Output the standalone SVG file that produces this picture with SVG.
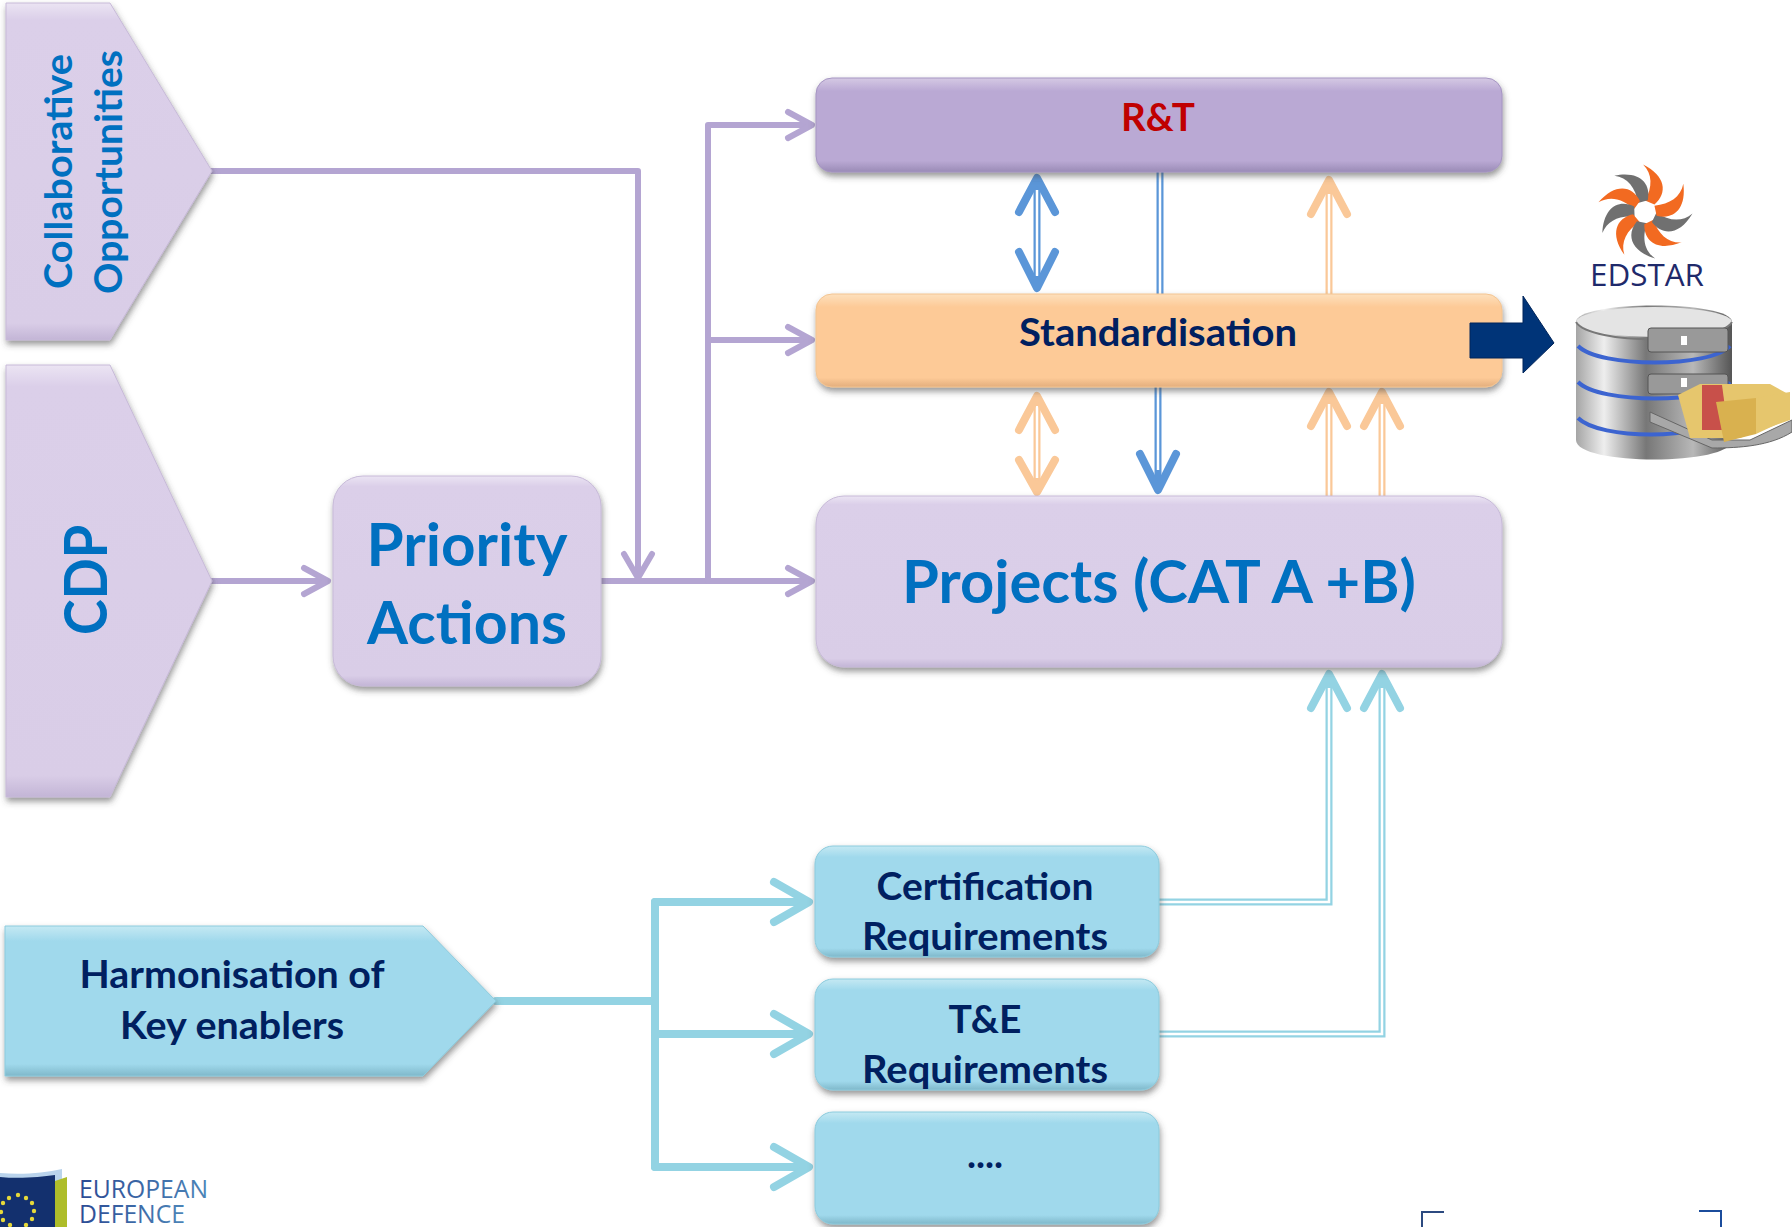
<svg xmlns="http://www.w3.org/2000/svg" width="1792" height="1227" viewBox="0 0 1792 1227">
<style>
text{font-family:Lato,"Open Sans","Liberation Sans",sans-serif;font-weight:700}
.b{fill:#0070c0}.n{fill:#002060}
.m{text-anchor:middle}
.pu{stroke:#b4a5d2}.bl{stroke:#5b96d8}.or{stroke:#fac898}.te{stroke:#93d3e3}
.c{fill:none;stroke-linecap:round;stroke-linejoin:round}
.w5{stroke-width:6}.w8{stroke-width:8}
.dbl{fill:none;stroke-width:7;stroke-linejoin:miter}
.gap{fill:none;stroke:#fff;stroke-width:2.5}
.hi{fill:#fff;opacity:.3}
.star{fill:#e6d93a}
</style>
<defs>
<filter id="sh" x="-10%" y="-10%" width="120%" height="125%"><feDropShadow dx="1" dy="4" stdDeviation="3" flood-color="#444" flood-opacity=".55"/></filter>
<linearGradient id="lav" x1="0" y1="0" x2="0" y2="1"><stop offset="0" stop-color="#ebe4f3"/><stop offset=".05" stop-color="#dbcfe9"/><stop offset=".95" stop-color="#d9cde7"/><stop offset="1" stop-color="#c3b5d6"/></linearGradient>
<linearGradient id="rt" x1="0" y1="0" x2="0" y2="1"><stop offset="0" stop-color="#d5c9e4"/><stop offset=".14" stop-color="#baa9d4"/><stop offset=".88" stop-color="#baa9d4"/><stop offset="1" stop-color="#9a8bb6"/></linearGradient>
<linearGradient id="og" x1="0" y1="0" x2="0" y2="1"><stop offset="0" stop-color="#fde0bd"/><stop offset=".14" stop-color="#fdca97"/><stop offset=".9" stop-color="#fdca97"/><stop offset="1" stop-color="#e3ae7d"/></linearGradient>
<linearGradient id="tl" x1="0" y1="0" x2="0" y2="1"><stop offset="0" stop-color="#c5e9f3"/><stop offset=".1" stop-color="#a0d9ec"/><stop offset=".92" stop-color="#a0d9ec"/><stop offset="1" stop-color="#7fb8ca"/></linearGradient>
<linearGradient id="sil" x1="0" y1="0" x2="1" y2="0"><stop offset="0" stop-color="#a5a5a5"/><stop offset=".18" stop-color="#eeeeee"/><stop offset=".45" stop-color="#777"/><stop offset=".75" stop-color="#b8b8b8"/><stop offset="1" stop-color="#555"/></linearGradient>
<linearGradient id="eu" x1="0" y1="0" x2="1" y2="0"><stop offset="0" stop-color="#2b4a94"/><stop offset="1" stop-color="#4c85b8"/></linearGradient>
<path id="blade" d="M0,-12 C8,-26 8,-40 -2,-50 C22,-38 24,-20 10,-8 Z"/>
</defs>

<g id="connectors">
<g class="c pu w5">
<path d="M212,171H638V578"/><path d="M624,554L638,578L652,554"/>
<path d="M212,581H326"/><path d="M304,568L328,581L304,594"/>
<path d="M601,581H810"/><path d="M788,568L812,581L788,594"/>
<path d="M708,581V125H810"/><path d="M788,112L812,125L788,138"/>
<path d="M708,340H810"/><path d="M788,327L812,340L788,353"/>
</g>
<g class="c te w8">
<path d="M496,1001H655"/><path d="M655,902V1167"/>
<path d="M655,902H806"/><path d="M655,1034H806"/><path d="M655,1167H806"/>
<path d="M774,882L809,902L774,922"/><path d="M774,1014L809,1034L774,1054"/>
<path d="M774,1147L809,1167L774,1187"/>
</g>
<g>
<path class="dbl bl" d="M1037,178V288"/><path class="gap" d="M1037,190V276"/>
<path class="c bl w8" d="M1019,212L1037,178L1055,212M1019,252L1037,288L1055,252"/>
<path class="dbl bl" d="M1160,172V294"/><path class="gap" d="M1160,172V294"/>
<path class="dbl bl" d="M1158,387V488"/><path class="gap" d="M1158,387V470"/>
<path class="c bl w8" d="M1140,454L1158,490L1176,454"/>
<path class="dbl or" d="M1329,182V294"/><path class="gap" d="M1329,194V294"/>
<path class="c or w8" d="M1311,214L1329,180L1347,214"/>
<path class="dbl or" d="M1037,398V490"/><path class="gap" d="M1037,406V478"/>
<path class="c or w8" d="M1019,430L1037,396L1055,430M1019,460L1037,492L1055,460"/>
<path class="dbl or" d="M1329,392V496"/><path class="gap" d="M1329,404V496"/>
<path class="c or w8" d="M1311,426L1329,392L1347,426"/>
<path class="dbl or" d="M1382,392V496"/><path class="gap" d="M1382,404V496"/>
<path class="c or w8" d="M1364,426L1382,392L1400,426"/>
<path class="dbl te" d="M1158,902H1329V676"/><path class="gap" d="M1158,902H1329V688"/>
<path class="c te w8" d="M1311,708L1329,674L1347,708"/>
<path class="dbl te" d="M1158,1034H1382V676"/><path class="gap" d="M1158,1034H1382V688"/>
<path class="c te w8" d="M1364,708L1382,674L1400,708"/>
</g>
</g>

<g id="collaborative"><path d="M6,3H110L212,171L110,340H6Z" fill="url(#lav)" stroke="#c7bad8" stroke-width="1" filter="url(#sh)"/>
<text class="b" transform="translate(72,289) rotate(-90)" font-size="38" textLength="235" lengthAdjust="spacingAndGlyphs">Collaborative</text>
<text class="b" transform="translate(122,294) rotate(-90)" font-size="38" textLength="244" lengthAdjust="spacingAndGlyphs">Opportunities</text></g>

<g id="cdp"><path d="M6,365H110L212,581L110,797H6Z" fill="url(#lav)" stroke="#c7bad8" stroke-width="1" filter="url(#sh)"/>
<text class="b m" transform="translate(107,580) rotate(-90)" font-size="60" textLength="110" lengthAdjust="spacingAndGlyphs">CDP</text></g>

<g id="priority"><rect x="333" y="476" width="268" height="210" rx="30" fill="url(#lav)" stroke="#c7bad8" filter="url(#sh)"/>
<text class="b m" x="467" y="566" font-size="60" textLength="201" lengthAdjust="spacingAndGlyphs">Priority</text>
<text class="b m" x="467" y="644" font-size="60" textLength="200" lengthAdjust="spacingAndGlyphs">Actions</text></g>

<g id="rnt"><rect x="816" y="78" width="686" height="94" rx="16" fill="url(#rt)" stroke="#a595c2" filter="url(#sh)"/>
<text class="m" fill="#c00000" x="1158" y="131" font-size="38" textLength="74" lengthAdjust="spacingAndGlyphs">R&amp;T</text></g>

<g id="standardisation"><rect x="816" y="294" width="686" height="93" rx="16" fill="url(#og)" stroke="#f3c491" filter="url(#sh)"/>
<text class="n m" x="1158" y="346" font-size="38" textLength="278" lengthAdjust="spacingAndGlyphs">Standardisation</text></g>

<g id="projects"><rect x="816" y="496" width="686" height="171" rx="28" fill="url(#lav)" stroke="#c7bad8" filter="url(#sh)"/>
<text class="b m" x="1159" y="603" font-size="60" textLength="514" lengthAdjust="spacingAndGlyphs">Projects (CAT A +B)</text></g>

<g id="harmonisation"><path d="M5,926H423L496,1001L423,1076H5Z" fill="url(#tl)" stroke="#8ccbdd" filter="url(#sh)"/>
<text class="n m" x="232" y="988" font-size="38" textLength="305" lengthAdjust="spacingAndGlyphs">Harmonisation of</text>
<text class="n m" x="232" y="1039" font-size="38" textLength="224" lengthAdjust="spacingAndGlyphs">Key enablers</text></g>

<g id="certification"><rect x="815" y="846" width="344" height="111" rx="18" fill="url(#tl)" stroke="#8ccbdd" filter="url(#sh)"/>
<text class="n m" x="985" y="900" font-size="38" textLength="217" lengthAdjust="spacingAndGlyphs">Certification</text>
<text class="n m" x="985" y="950" font-size="38" textLength="246" lengthAdjust="spacingAndGlyphs">Requirements</text></g>

<g id="tande"><rect x="815" y="979" width="344" height="111" rx="18" fill="url(#tl)" stroke="#8ccbdd" filter="url(#sh)"/>
<text class="n m" x="985" y="1033" font-size="38" textLength="73" lengthAdjust="spacingAndGlyphs">T&amp;E</text>
<text class="n m" x="985" y="1083" font-size="38" textLength="246" lengthAdjust="spacingAndGlyphs">Requirements</text></g>

<g id="more"><rect x="815" y="1112" width="344" height="112" rx="18" fill="url(#tl)" stroke="#8ccbdd" filter="url(#sh)"/>
<text class="n m" x="985" y="1168" font-size="38">....</text></g>

<g id="edstar">
<g transform="translate(1645,212) scale(.95)">
<use href="#blade" fill="#f26a21" transform="rotate(0)"/>
<use href="#blade" fill="#707070" transform="rotate(-38)"/>
<use href="#blade" fill="#f26a21" transform="rotate(-76)"/>
<use href="#blade" fill="#707070" transform="rotate(-114)"/>
<use href="#blade" fill="#f26a21" transform="rotate(-152)"/>
<use href="#blade" fill="#707070" transform="rotate(-190)"/>
<use href="#blade" fill="#f26a21" transform="rotate(-228)"/>
<use href="#blade" fill="#707070" transform="rotate(-266)"/>
<use href="#blade" fill="#f26a21" transform="rotate(-304)"/>
</g>
<text x="1590" y="286" font-size="31" fill="#1f2a6b" style="font-family:'Open Sans',sans-serif;font-weight:400" textLength="114" lengthAdjust="spacingAndGlyphs">EDSTAR</text>
</g>

<g id="database">
<path d="M1576,322C1576,300 1732,300 1732,322V440C1732,466 1576,466 1576,440Z" fill="url(#sil)"/>
<ellipse cx="1654" cy="322" rx="78" ry="15" fill="#e4e4e4"/>
<path d="M1576,322C1590,345 1718,345 1732,322" fill="none" stroke="#777" stroke-width="2"/>
<path d="M1578,346C1600,368 1710,368 1730,346" fill="none" stroke="#3c64d0" stroke-width="4"/>
<path d="M1578,382C1600,404 1710,404 1730,382" fill="none" stroke="#3c64d0" stroke-width="4"/>
<path d="M1578,418C1600,440 1700,440 1730,418" fill="none" stroke="#3c64d0" stroke-width="4"/>
<rect x="1648" y="328" width="80" height="24" rx="3" fill="#999" stroke="#555"/>
<rect x="1648" y="374" width="80" height="20" rx="3" fill="#999" stroke="#555"/>
<rect x="1681" y="336" width="6" height="9" fill="#fff"/><rect x="1681" y="378" width="6" height="9" fill="#fff"/>
<path d="M1650,412L1712,440H1750L1792,420V432C1770,446 1740,448 1712,448L1650,422Z" fill="#a8a8a8" stroke="#666"/>
<path d="M1678,395L1700,384H1770L1790,395V420L1740,438H1690Z" fill="#e6c66d"/>
<path d="M1702,385H1722L1728,430H1702Z" fill="#c8504a"/>
<path d="M1716,402L1756,398V434L1724,442Z" fill="#d9b14f"/>
<path d="M1756,398L1790,392V418L1756,434Z" fill="#e6c66d"/>
</g>

<path id="navy-arrow" d="M1470,323H1523V296L1554,343L1523,373V358H1470Z" fill="#003478" stroke="#00255a" stroke-width="1"/>

<g id="eda-logo">
<path d="M0,1173C22,1175 44,1173 62,1169V1227H0Z" fill="#b9d3ec"/>
<path d="M0,1177C20,1179 40,1177 55,1175V1227H0Z" fill="#13306e"/>
<path d="M55,1181L67,1177V1227H55Z" fill="#aebd2a"/>
<g class="star">
<circle cx="18" cy="1195" r="2.2"/><circle cx="9" cy="1198" r="2.2"/><circle cx="26" cy="1198" r="2.2"/>
<circle cx="3" cy="1203" r="2.2"/><circle cx="32" cy="1203" r="2.2"/><circle cx="1" cy="1212" r="2.2"/>
<circle cx="34" cy="1211" r="2.2"/><circle cx="3" cy="1220" r="2.2"/><circle cx="32" cy="1219" r="2.2"/>
<circle cx="10" cy="1225" r="2.2"/><circle cx="26" cy="1225" r="2.2"/>
</g>
<text x="79" y="1198" font-size="26" fill="url(#eu)" style="font-family:'Open Sans',sans-serif;font-weight:400" textLength="129" lengthAdjust="spacingAndGlyphs">EUROPEAN</text>
<text x="79" y="1223" font-size="26" fill="url(#eu)" style="font-family:'Open Sans',sans-serif;font-weight:400" textLength="106" lengthAdjust="spacingAndGlyphs">DEFENCE</text>
</g>
<g id="crop-marks" fill="none" stroke-width="2">
<path d="M1422,1227V1212H1444" stroke="#2c4a80"/>
<path d="M1699,1211H1721V1227" stroke="#1b4c9c"/>
</g>
</svg>
